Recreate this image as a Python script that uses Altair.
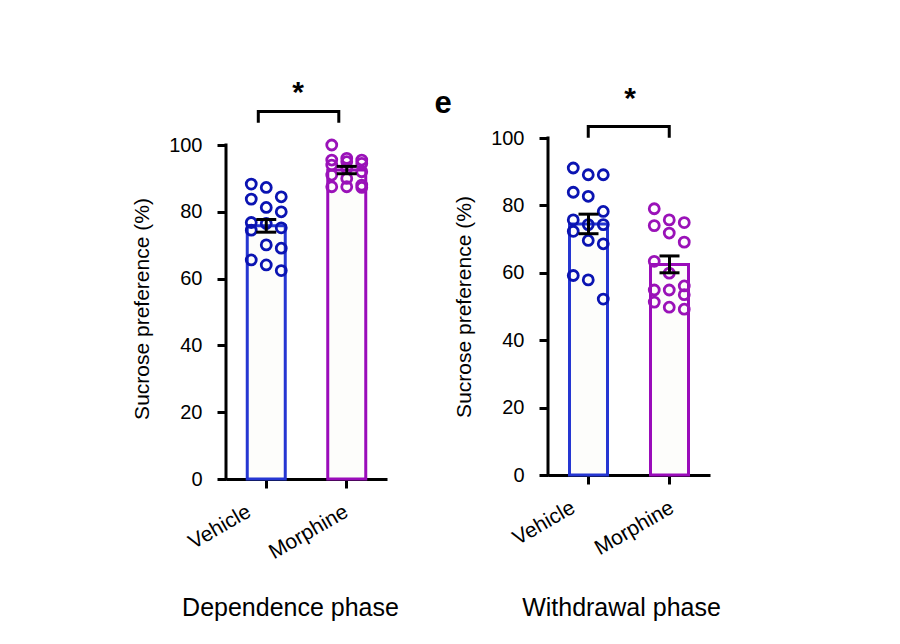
import altair as alt
import pandas as pd

groups = ["Vehicle", "Morphine"]

# Dependence phase (left panel)
dep_vehicle = [88.3, 87.3, 84.5, 83.8, 81.3, 80.0, 76.8, 76.5, 75.2, 74.5, 70.1, 69.1, 65.6, 64.1, 62.4]
dep_morphine = [100.0, 96.0, 95.5, 95.5, 95.0, 94.5, 94.0, 93.0, 92.0, 91.0, 90.0, 88.0, 87.5, 87.5, 87.3]
dep_mean = [75.8, 92.5]
dep_sem = [1.9, 1.1]

# Withdrawal phase (right panel)
wd_vehicle = [91.1, 89.1, 89.1, 83.9, 82.7, 78.2, 75.7, 74.3, 74.3, 72.3, 69.6, 68.6, 59.2, 57.9, 52.2]
wd_morphine = [79.0, 75.7, 74.9, 74.0, 71.8, 69.1, 63.4, 59.9, 56.1, 54.9, 54.9, 53.5, 51.3, 49.8, 49.2]
wd_mean = [74.5, 62.5]
wd_sem = [2.9, 2.5]

y_ticks = [0, 20, 40, 60, 80, 100]

FONT = "Liberation Sans"
bar_colors = ["#2536d2", "#9a0cba"]


def panel(vals_v, vals_m, means, sems, top, height, width, pt_colors, title,
          title_x, title_y, veh_off, mor_off, br_top, br_leg, br_shift, star_y, star_x, show_e):
    pts = pd.DataFrame({"group": ["Vehicle"] * len(vals_v) + ["Morphine"] * len(vals_m),
                        "value": vals_v + vals_m})
    summ = pd.DataFrame({"group": groups, "mean": means, "sem": sems})
    br = pd.DataFrame({"group": ["Vehicle", "Vehicle", "Morphine", "Morphine"],
                       "y": [br_leg, br_top, br_top, br_leg], "o": [0, 1, 2, 3]})
    one = pd.DataFrame({"a": [0]})

    half = width / 4.0  # centre of each band (band = width / 2)
    off_scale = alt.Scale(domain=[-1, 1], range=[half - 15, half + 15])

    xaxis = alt.Axis(
        title=title, titleFontSize=25, titleFont=FONT, titleFontWeight="normal",
        titleX=title_x, titleY=title_y, titleAlign="center", titleBaseline="middle",
        labelAngle=330, labelAlign="right", labelBaseline="middle", labelPadding=22,
        labelFontSize=21, labelFont=FONT,
        labelOffset={"condition": {"test": "datum.value == 'Vehicle'", "value": veh_off},
                     "value": mor_off},
        tickSize=9, tickWidth=3, domainWidth=3, domainColor="black", tickColor="black",
        labelColor="black", titleColor="black")
    xenc = alt.X("group:N", sort=groups,
                 scale=alt.Scale(domain=groups, paddingInner=0, paddingOuter=0),
                 axis=xaxis)
    yscale = alt.Scale(domain=[0, top], nice=False, zero=True)
    yaxis = alt.Axis(values=y_ticks, title="Sucrose preference (%)", domain=False,
                     titleFontSize=21, titleFont=FONT, titleFontWeight="normal",
                     titlePadding=16, labelFontSize=20, labelFont=FONT, labelPadding=15,
                     tickSize=9, tickWidth=3, tickColor="black", labelColor="black",
                     titleColor="black", grid=False)

    bars = alt.Chart(summ).mark_bar(size=38, fill="#fdfdfb", strokeWidth=3).encode(
        x=xenc,
        y=alt.Y("mean:Q", scale=yscale, axis=yaxis),
        stroke=alt.Stroke("group:N", scale=alt.Scale(domain=groups, range=bar_colors), legend=None),
    )
    dots = alt.Chart(pts).transform_window(
        row="row_number()", groupby=["group"], sort=[alt.SortField("value", order="descending")]
    ).transform_calculate(
        jit="((datum.row - 1) % 3) - 1"
    ).mark_point(shape="circle", filled=False, size=100, strokeWidth=2.8, opacity=1).encode(
        x=xenc,
        y=alt.Y("value:Q", scale=yscale, axis=yaxis),
        xOffset=alt.XOffset("jit:Q", scale=off_scale),
        color=alt.Color("group:N", scale=alt.Scale(domain=groups, range=pt_colors), legend=None),
    )
    err_base = alt.Chart(summ).transform_calculate(
        lo="datum.mean - datum.sem", hi="datum.mean + datum.sem")
    err = err_base.mark_rule(color="black", strokeWidth=3).encode(
        x=xenc, y=alt.Y("lo:Q", scale=yscale, axis=yaxis), y2="hi:Q")
    cap_lo = err_base.mark_tick(color="black", thickness=3, size=20, opacity=1).encode(
        x=xenc, y=alt.Y("lo:Q", scale=yscale, axis=yaxis))
    cap_hi = err_base.mark_tick(color="black", thickness=3, size=20, opacity=1).encode(
        x=xenc, y=alt.Y("hi:Q", scale=yscale, axis=yaxis))
    bracket = alt.Chart(br).transform_calculate(
        shift=str(br_shift)
    ).mark_line(color="black", strokeWidth=3, strokeJoin="miter").encode(
        x=xenc, y=alt.Y("y:Q", scale=yscale, axis=yaxis), order="o:Q",
        xOffset=alt.XOffset("shift:Q", scale=off_scale))
    yline = alt.Chart(one).mark_rule(color="black", strokeWidth=3, strokeCap="square").encode(
        x=alt.value(0), y=alt.datum(0, scale=yscale), y2=alt.datum(100))
    star = alt.Chart(one).mark_text(text="*", fontSize=30, fontWeight="bold", font=FONT,
                                    color="black").encode(
        x=alt.value(star_x), y=alt.datum(star_y))
    layers = [bars, dots, err, cap_lo, cap_hi, bracket, yline, star]
    if show_e:
        elabel = alt.Chart(one).mark_text(text="e", fontSize=31, fontWeight="bold", font=FONT,
                                          color="black").encode(
            x=alt.value(-105), y=alt.value(-34))
        layers.append(elabel)
    return alt.layer(*layers).properties(width=width, height=height)


left = panel(dep_vehicle, dep_morphine, dep_mean, dep_sem, 102.1, 341, 161,
             ["#0b14b2", "#9a12b8"], "Dependence phase", 64, 128, -17, 0,
             110.0, 106.7, -0.53, 115.5, 72, False)
right = panel(wd_vehicle, wd_morphine, wd_mean, wd_sem, 100, 337, 162,
              ["#2a36d0", "#9a16b8"], "Withdrawal phase", 73, 132, -15, 3,
              103.4, 100.1, 0.0, 111.5, 82, True)

chart = alt.hconcat(left, right, spacing=161, bounds="flush").properties(
    padding={"left": 123, "top": 70, "right": 5, "bottom": 5},
    background="white"
).configure_view(stroke=None)

chart.save("out.html", embed_options={"renderer": "svg", "actions": False})
